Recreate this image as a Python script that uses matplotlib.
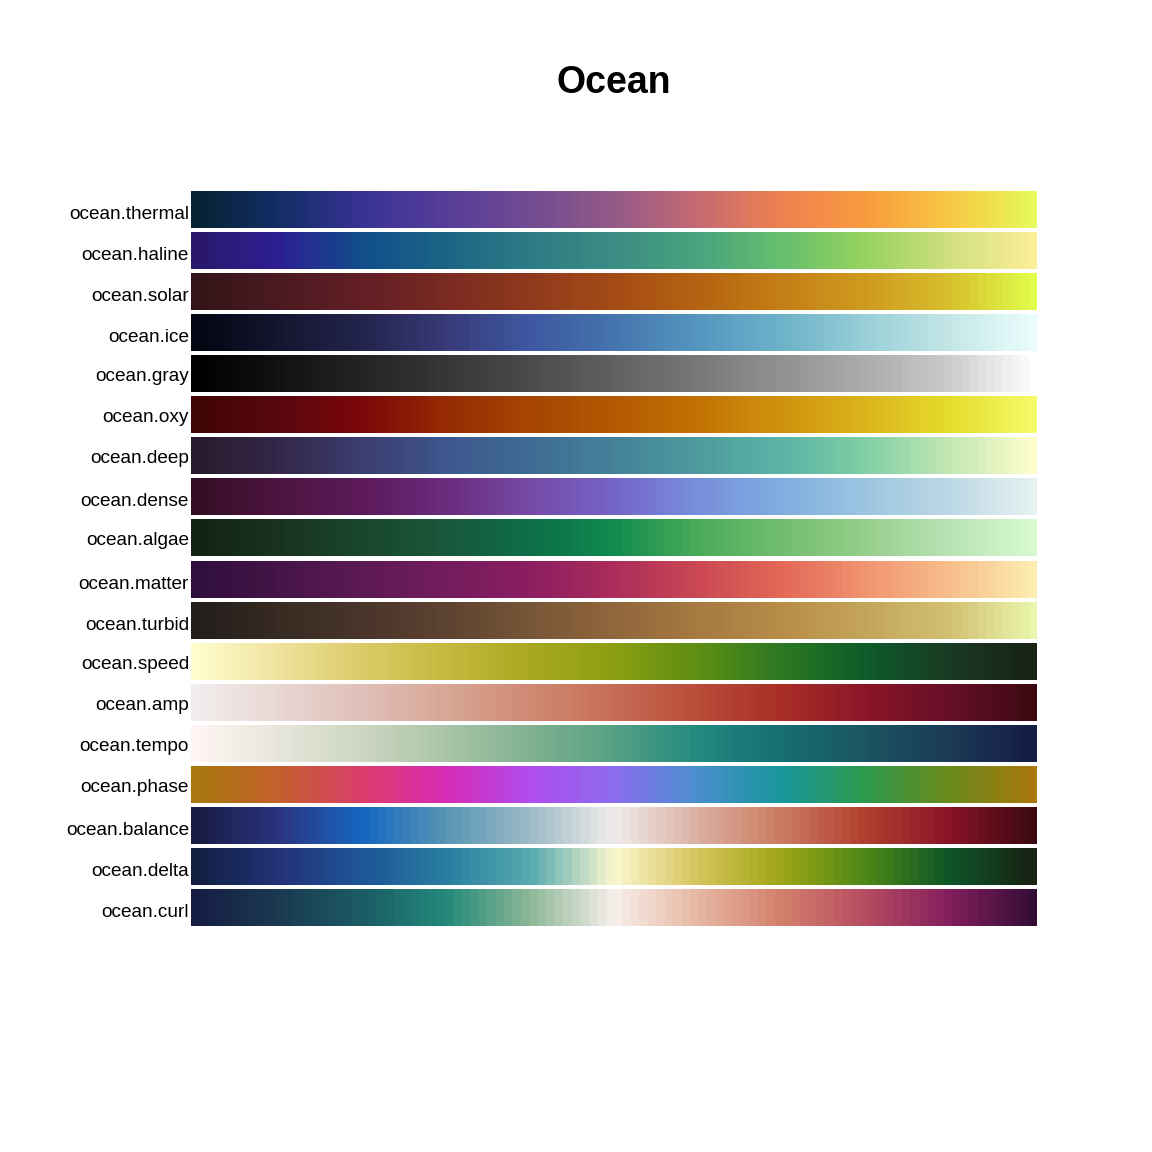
import numpy as np
import matplotlib
matplotlib.use("Agg")
import matplotlib.pyplot as plt
from matplotlib.colors import LinearSegmentedColormap

# palette names, top to bottom
names = ["thermal", "haline", "solar", "ice", "gray", "oxy", "deep", "dense",
         "algae", "matter", "turbid", "speed", "amp", "tempo", "phase",
         "balance", "delta", "curl"]

# colours at 0, 0.1, ..., 1.0
thermal = ["#042333", "#132d66", "#383395", "#573d99", "#724b92", "#935a88",
           "#c66a73", "#ef8150", "#f99b3e", "#f8c844", "#e8fa5b"]
haline = ["#2a186c", "#2e1f93", "#114e8b", "#1c6585", "#2d7b86", "#3c8d84",
          "#4aa37e", "#65bf6e", "#96d35e", "#d0df80", "#fdef9a"]
solar = ["#331418", "#4b1a21", "#621f25", "#7a2a22", "#8f3a1d", "#a54b16",
         "#b56311", "#c47e16", "#cf9b1f", "#d8bf2d", "#e0fd4a"]
ice = ["#040613", "#141630", "#23244d", "#383a78", "#3e58a2", "#4575ae",
       "#5596bf", "#6db2ca", "#98cfd8", "#c4e6e6", "#eafdfd"]
gray = ["#000000", "#121212", "#242424", "#373737", "#4b4b4b", "#616161",
        "#787878", "#919191", "#acacab", "#cbcbca", "#fffffd"]
oxy = ["#400505", "#59070f", "#7c0609", "#962c04", "#a64603", "#b45902",
       "#c27203", "#d0930e", "#dbb41c", "#e6dc2d", "#f5fb66"]
deep = ["#281a2c", "#33284a", "#3c3d70", "#3e588e", "#3f6c94", "#448299",
        "#4e9b9e", "#5bb4a6", "#80cfa4", "#c2e7b3", "#fdfecc"]
dense = ["#360e24", "#4c1540", "#5d1a5a", "#6b2d7e", "#774aa6", "#7565c8",
         "#778fdc", "#80ade1", "#9dc5e0", "#bcd8e6", "#e6f1f1"]
algae = ["#122414", "#183221", "#1a462f", "#19583c", "#0e6e49", "#108b4e",
         "#4aab5a", "#72bd70", "#97cf8c", "#b8e3b4", "#d7f9d0"]
matter = ["#2f0f3d", "#461448", "#5c1a55", "#731c5e", "#8c1e61", "#ac2d5b",
          "#cb4853", "#e36856", "#f19470", "#f7be8b", "#fdedb0"]
turbid = ["#221e1b", "#372b22", "#4a352b", "#5e4331", "#785638", "#90673c",
          "#a67a41", "#b88d49", "#c4a55a", "#d2c073", "#e9f6ab"]
speed = ["#fffdcd", "#efe39d", "#dccb67", "#c6b93f", "#a9a820", "#8c9e12",
         "#5d8e13", "#2c7821", "#0e5c2b", "#1a3a23", "#172313"]
amp = ["#f1eeed", "#e8d7d3", "#e0c0b8", "#d8a795", "#cf8a74", "#c66d56",
       "#ba4d39", "#a92e26", "#8c1628", "#660f27", "#3c0912"]
tempo = ["#fff6f4", "#e7e6db", "#cdd6c1", "#a9c5a7", "#80b18f", "#57a185",
         "#228a7f", "#176e73", "#1b5564", "#1c3a55", "#151d44"]
phase = ["#a8780d", "#c3602c", "#dc3d6c", "#d62bb5", "#b04df0", "#8c6cee",
         "#4a8fce", "#18979c", "#2e9a4d", "#6a8a1c", "#a8780d"]
balance = ["#181c43", "#2b3481", "#1667c0", "#5896b5", "#9cbac6", "#f0ecea",
           "#dcb0a2", "#ca7b60", "#b23f2e", "#8b1428", "#3c0912"]
delta = ["#112040", "#243279", "#1e5698", "#297ea0", "#56aaaf", "#fbf7cf",
         "#d7c45c", "#9fa617", "#4d8816", "#0e5629", "#172313"]
curl = ["#151d44", "#1c3a52", "#1b5c65", "#23897a", "#8cb897", "#f8efeb",
        "#e6b8a3", "#d3806c", "#b64c61", "#841f5e", "#340d35"]

palettes = [thermal, haline, solar, ice, gray, oxy, deep, dense, algae, matter,
            turbid, speed, amp, tempo, phase, balance, delta, curl]

n_colors = 100


def baseline_shift(label):
    # labels are centred on their ink, so ones with descenders sit a bit higher
    if any(c in "gjpqy" for c in label):
        return 7.5
    return 9.5


def plot(output_name):
    fig = plt.figure(figsize=(11.52, 11.52), dpi=100)
    # axes box in figure fractions (bars span x 191..1037, y 191..926 px)
    ax = fig.add_axes([191 / 1152, 1 - 926 / 1152, 846 / 1152, 735 / 1152])

    n_rows = len(names)
    row_px = 41.0
    gradient = np.linspace(0, 1, n_colors)[None, :]
    for i, (name, colors) in enumerate(zip(names, palettes)):
        cmap = LinearSegmentedColormap.from_list(name, colors, N=n_colors)
        top = n_rows - i
        ax.imshow(gradient, cmap=cmap, aspect="auto", interpolation="nearest",
                  extent=(0, 1, top - 0.9, top))
        label = "ocean." + name
        y = top - 0.45 - baseline_shift(label) / row_px
        ax.text(-2 / 846, y, label,
                transform=ax.get_yaxis_transform(),
                ha="right", va="baseline", fontsize=13.7,
                family="Liberation Sans", color="black")

    ax.set_xlim(0, 1)
    ax.set_ylim(0.1, n_rows)
    ax.axis("off")

    fig.text(614 / 1152, 1 - 83 / 1152, "Ocean", ha="center", va="center",
             fontsize=27, fontweight="bold", family="Liberation Sans")

    plt.savefig(output_name, dpi=100)
    plt.close("all")


def main():
    plot("out.png")


if __name__ == "__main__":
    main()
